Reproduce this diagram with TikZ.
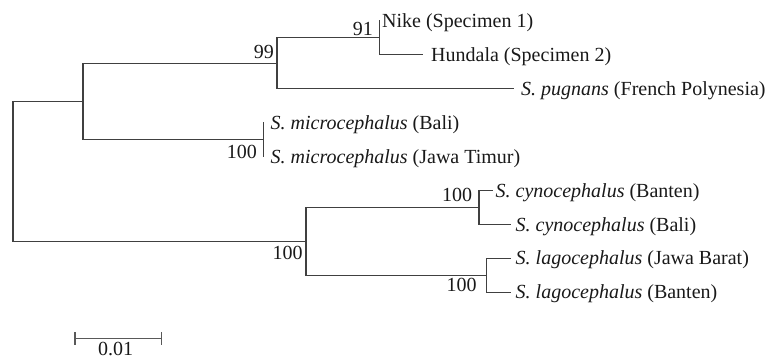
\documentclass[tikz,border=0pt]{standalone}
\usepackage{fontspec}
\setmainfont{Liberation Serif}
\begin{document}
\begin{tikzpicture}[x=1pt,y=-1pt,
  br/.style={draw=black!75,line width=1.35pt,line cap=rect},
  lbl/.style={anchor=base west,inner sep=0pt,text=black!90,font=\fontsize{20}{24}\selectfont},
  bs/.style={anchor=base east,inner sep=0pt,text=black!90,font=\fontsize{20}{24}\selectfont},
  sbar/.style={draw=black!65,line width=1.8pt}]
\useasboundingbox (0,0) rectangle (770,360);
% internal nodes
\coordinate (root) at (13,171.4);
\coordinate (A) at (83,101.5);
\coordinate (B) at (306,241.3);
\coordinate (n99) at (277,63.3);
\coordinate (n91) at (379.3,37.8);
\coordinate (micro) at (263.5,139.6);
\coordinate (cyno) at (479,207.4);
\coordinate (lago) at (486.5,275.2);
% leaves
\coordinate (nike) at (379.3,21);
\coordinate (hund) at (422.5,54.6);
\coordinate (pug) at (513,88.8);
\coordinate (mb) at (263.5,122.7);
\coordinate (mj) at (263.5,156.6);
\coordinate (cb) at (492,190.5);
\coordinate (cbl) at (510.5,224.4);
\coordinate (lj) at (510.5,258.3);
\coordinate (lb) at (510.5,292.2);
% branches
\draw[br] (root) |- (A);
\draw[br] (root) |- (B);
\draw[br] (A) |- (n99);
\draw[br] (A) |- (micro);
\draw[br] (n99) |- (n91);
\draw[br] (n99) |- (pug);
\draw[br] (n91) |- (nike);
\draw[br] (n91) |- (hund);
\draw[br] (micro) -- (mb);
\draw[br] (micro) -- (mj);
\draw[br] (B) |- (cyno);
\draw[br] (B) |- (lago);
\draw[br] (cyno) |- (cb);
\draw[br] (cyno) |- (cbl);
\draw[br] (lago) |- (lj);
\draw[br] (lago) |- (lb);
% leaf labels
\node[lbl] (tnike) at (382,27.6) {Nike (Specimen 1)};
\node[lbl] (thund) at (431,61.2) {Hundala (Specimen 2)};
\node[lbl] (tpug) at (521,95.4) {\textit{S. pugnans} (French Polynesia)};
\node[lbl] (tmb) at (270.5,129.3) {\textit{S. microcephalus} (Bali)};
\node[lbl] (tmj) at (270.5,163.2) {\textit{S. microcephalus} (Jawa Timur)};
\node[lbl] (tcb) at (495.5,197.1) {\textit{S. cynocephalus} (Banten)};
\node[lbl] (tcbl) at (515.5,231) {\textit{S. cynocephalus} (Bali)};
\node[lbl] (tlj) at (515.5,264.9) {\textit{S. lagocephalus} (Jawa Barat)};
\node[lbl] (tlb) at (515.5,298.8) {\textit{S. lagocephalus} (Banten)};
% bootstrap values
\node[bs] (b91) at (373,35) {91};
\node[bs] (b99) at (274,58) {99};
\node[bs] (bmicro) at (257,158) {100};
\node[bs] (bcyno) at (472.3,201.5) {100};
\node[bs] (blago) at (476.7,291.5) {100};
\node[bs] (bB) at (302.7,259) {100};
% scale bar
\coordinate (sbL) at (75,338.5);
\coordinate (sbR) at (161.7,338.5);
\draw[sbar] (sbL) -- (sbR);
\draw[sbar,line width=1.4pt] ([yshift=6.5pt]sbL) -- ([yshift=-6.5pt]sbL);
\draw[sbar,line width=1.4pt] ([yshift=6.5pt]sbR) -- ([yshift=-6.5pt]sbR);
\node[bs,anchor=base] (tsb) at (115.5,355.5) {0.01};
\end{tikzpicture}
\end{document}
